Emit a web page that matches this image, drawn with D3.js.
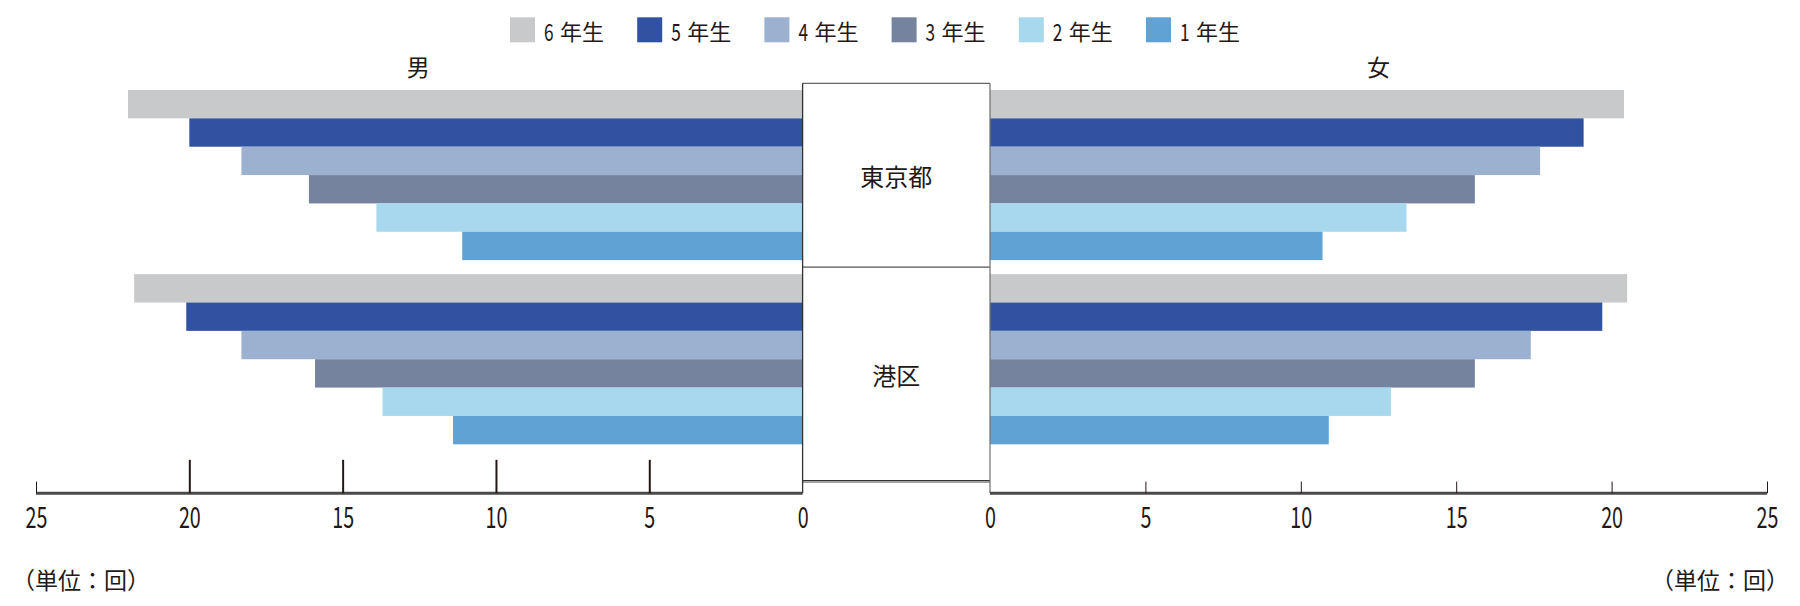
<!DOCTYPE html>
<html><head><meta charset="utf-8">
<script src="https://cdn.jsdelivr.net/npm/d3@7"></script>
<style>
html,body{margin:0;padding:0;background:#fff;}
svg{display:block;}
text{font-family:"Noto Sans CJK JP","Noto Sans",sans-serif;fill:#231815;}
</style></head>
<body><svg id="c" width="1800" height="606"></svg>
<script>
const regions = ["東京都", "港区"];
const grades = ["6年生", "5年生", "4年生", "3年生", "2年生", "1年生"];
const legendOrder = ["6年生", "5年生", "4年生", "3年生", "2年生", "1年生"];
const colors = ["#c8c9cb", "#3152a1", "#9cb0cf", "#75839f", "#a8d8ee", "#60a2d4"];
const maleTokyo  = [22.0, 20.0, 18.3, 16.1, 13.9, 11.1];
const maleMinato = [21.8, 20.1, 18.3, 15.9, 13.7, 11.4];
const femaleTokyo  = [20.4, 19.1, 17.7, 15.6, 13.4, 10.7];
const femaleMinato = [20.5, 19.7, 17.4, 15.6, 12.9, 10.9];
const tickValues = [0, 5, 10, 15, 20, 25];
const longLeftTicks = [5, 10, 15, 20];
const sideLabels = ["男", "女"];
const unitLabel = "（単位：回）";

const svg = d3.select("#c");
const xL = d3.scaleLinear().domain([0, 25]).range([802.6, 36]);
const xR = d3.scaleLinear().domain([0, 25]).range([990, 1767]);
const gy = d3.scaleBand().domain(regions).range([90, 444.3]).paddingInner(0.076).paddingOuter(0);
const by = d3.scaleBand().domain(grades).range([0, gy.bandwidth()]).padding(0);
const color = d3.scaleOrdinal().domain(grades).range(colors);

const male = {"東京都": maleTokyo, "港区": maleMinato};
const female = {"東京都": femaleTokyo, "港区": femaleMinato};

const rows = [];
regions.forEach(r => grades.forEach((g, i) => rows.push({r, g, m: male[r][i], f: female[r][i]})));

// bars
svg.append("g").selectAll("rect").data(rows).join("rect")
  .attr("x", d => xL(d.m)).attr("width", d => xL(0) - xL(d.m))
  .attr("y", d => gy(d.r) + by(d.g)).attr("height", by.bandwidth())
  .attr("fill", d => color(d.g));
svg.append("g").selectAll("rect").data(rows).join("rect")
  .attr("x", xR(0)).attr("width", d => xR(d.f) - xR(0))
  .attr("y", d => gy(d.r) + by(d.g)).attr("height", by.bandwidth())
  .attr("fill", d => color(d.g));

// center box
const boxTop = gy(regions[0]) - 6.7;
const boxBot = 481.5;
const axisY = 493.3;
const divY = (gy(regions[0]) + gy.bandwidth() + gy(regions[1])) / 2;
const bx0 = xL(0), bx1 = xR(0);
svg.append("rect").attr("x", bx0).attr("y", boxTop).attr("width", bx1 - bx0).attr("height", boxBot - boxTop)
  .attr("fill", "#fff");
svg.append("line").attr("x1", bx0).attr("x2", bx1).attr("y1", boxTop).attr("y2", boxTop).attr("stroke", "#666").attr("stroke-width", 1.3);
svg.append("line").attr("x1", bx0).attr("x2", bx1).attr("y1", divY).attr("y2", divY).attr("stroke", "#555").attr("stroke-width", 1.3);
svg.append("line").attr("x1", bx0).attr("x2", bx1).attr("y1", boxBot).attr("y2", boxBot).attr("stroke", "#a0a0a0").attr("stroke-width", 3);
svg.append("line").attr("x1", bx0).attr("x2", bx1).attr("y1", boxBot - 1).attr("y2", boxBot - 1).attr("stroke", "#333").attr("stroke-width", 1);
svg.append("line").attr("x1", bx0).attr("x2", bx0).attr("y1", boxTop).attr("y2", axisY).attr("stroke", "#333").attr("stroke-width", 1.3);
svg.append("line").attr("x1", bx1).attr("x2", bx1).attr("y1", boxTop).attr("y2", axisY).attr("stroke", "#777").attr("stroke-width", 1.3);

// region labels
const secs = [[boxTop, divY], [divY, boxBot]];
svg.append("g").selectAll("text").data(regions).join("text")
  .attr("x", (bx0 + bx1) / 2).attr("y", (d, i) => (secs[i][0] + secs[i][1]) / 2)
  .attr("text-anchor", "middle").attr("dominant-baseline", "central")
  .attr("font-size", 24).text(d => d);

// axes
function drawAxis(scale, longTicks) {
  const g = svg.append("g").attr("transform", `translate(0,${axisY})`);
  const ax = d3.axisBottom(scale).tickValues(tickValues).tickSize(0).tickPadding(0).tickFormat(d3.format("d"));
  g.call(ax);
  g.select(".domain").attr("stroke", "#4a4a4a").attr("stroke-width", 3).attr("d", `M${scale.range()[0]},0H${scale.range()[1]}`);
  g.selectAll(".tick text").attr("font-size", 29).attr("fill", "#231815")
    .attr("font-family", "Roboto, 'Noto Sans', sans-serif")
    .attr("y", 22).attr("dy", 0).attr("dominant-baseline", "central")
    .attr("transform", "scale(0.68,1)");
  g.selectAll(".tick").filter(d => d !== 0).append("line")
    .attr("y1", d => longTicks.includes(d) ? -33.5 : -11.7).attr("y2", 0)
    .attr("stroke", "#231815").attr("stroke-width", d => longTicks.includes(d) ? 2 : 1);
}
drawAxis(xL, longLeftTicks);
drawAxis(xR, []);

// side labels
svg.append("g").selectAll("text").data(sideLabels).join("text")
  .attr("x", (d, i) => i === 0 ? (xL(25) + xL(0)) / 2 - 1 : (xR(0) + xR(25)) / 2)
  .attr("y", 66).attr("text-anchor", "middle").attr("dominant-baseline", "central")
  .attr("font-size", 23).text(d => d);

// unit labels
svg.append("text").attr("x", 12).attr("y", 579).attr("dominant-baseline", "central").attr("font-size", 23).text(unitLabel);
svg.append("text").attr("x", 1789).attr("y", 579).attr("text-anchor", "end").attr("dominant-baseline", "central").attr("font-size", 23).text(unitLabel);

// legend
const lx = d3.scalePoint().domain(legendOrder).range([510, 1146]);
const lg = svg.append("g").selectAll("g").data(legendOrder).join("g")
  .attr("transform", d => `translate(${lx(d)},17.3)`);
lg.append("rect").attr("width", 25).attr("height", 25).attr("fill", d => color(d));
lg.append("text").attr("transform", "translate(34,13) scale(0.72,1)")
  .attr("font-family", "Roboto, 'Noto Sans', sans-serif").attr("font-size", 24)
  .attr("dominant-baseline", "central").text(d => d.slice(0, 1));
lg.append("text").attr("x", 50).attr("y", 13).attr("dominant-baseline", "central")
  .attr("font-size", 22).text(d => d.slice(1));
</script></body></html>
